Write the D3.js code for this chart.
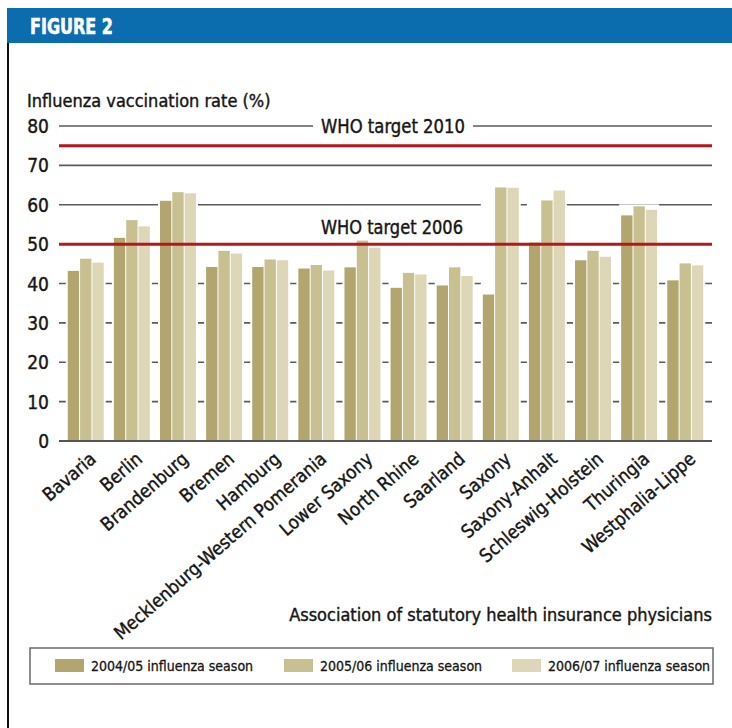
<!DOCTYPE html>
<html>
<head>
<meta charset="utf-8">
<script src="https://cdn.jsdelivr.net/npm/d3@7"></script>
<style>
body { margin: 0; background: #fff; }
svg text { font-family: "DejaVu Sans Condensed", "Liberation Sans Narrow", "Roboto", sans-serif; fill: #161616; stroke: #161616; stroke-width: 0.4px; }
</style>
</head>
<body>
<script>
var W = 732, H = 728;

var states = ['Bavaria', 'Berlin', 'Brandenburg', 'Bremen', 'Hamburg',
    'Mecklenburg-Western Pomerania', 'Lower Saxony', 'North Rhine', 'Saarland',
    'Saxony', 'Saxony-Anhalt', 'Schleswig-Holstein', 'Thuringia', 'Westphalia-Lippe'];
var seasons = ['2004/05 influenza season', '2005/06 influenza season', '2006/07 influenza season'];
var season0405 = [43.2, 51.6, 61.0, 44.2, 44.2, 43.8, 44.1, 38.9, 39.5, 37.2, 50.4, 45.9, 57.3, 40.8];
var season0506 = [46.3, 56.1, 63.2, 48.3, 46.1, 44.7, 50.9, 42.7, 44.1, 64.4, 61.1, 48.3, 59.6, 45.1];
var season0607 = [45.3, 54.5, 62.9, 47.6, 45.9, 43.3, 49.1, 42.3, 41.9, 64.3, 63.6, 46.8, 58.7, 44.6];
var yTicks = [0, 10, 20, 30, 40, 50, 60, 70, 80];
var targets = [{label: 'WHO target 2006', value: 50}, {label: 'WHO target 2010', value: 75}];

var COLORS = ['#b2a66e', '#c9c092', '#ddd6b7'];
var RED = '#b3191c';

var svg = d3.select('body').append('svg')
    .attr('width', W)
    .attr('height', H);

// frame + header
svg.append('rect').attr('x', 7).attr('y', 8).attr('width', W - 7).attr('height', 35).attr('fill', '#0b6cae');
svg.append('line').attr('x1', 8).attr('x2', 8).attr('y1', 43).attr('y2', H)
    .attr('stroke', '#111').attr('stroke-width', 2);
svg.append('text').attr('x', 30).attr('y', 34)
    .attr('textLength', 83).attr('lengthAdjust', 'spacingAndGlyphs')
    .style('font-weight', 'bold').style('font-size', '22px')
    .style('fill', '#fff').style('stroke', '#fff').style('stroke-width', '0.6px')
    .text('FIGURE 2');

var plotLeft = 59, plotRight = 712, plotTop = 126, plotBottom = 441;

var x = d3.scaleBand().domain(states).range([plotLeft, plotRight]).paddingInner(0.22).paddingOuter(0.19);
var xs = d3.scaleBand().domain([0, 1, 2]).range([0, x.bandwidth()]).paddingInner(0.08);
var y = d3.scaleLinear().domain([0, 80]).range([plotBottom, plotTop]);

var data = states.map(function (s, i) {
    return {state: s, vals: [season0405[i], season0506[i], season0607[i]]};
});

// y title
svg.append('text').attr('x', 27).attr('y', 107).style('font-size', '18px').text('Influenza vaccination rate (%)');

// grid
var grid = svg.append('g');
grid.selectAll('line').data(yTicks.filter(function (d) { return d > 0; })).enter().append('line')
    .attr('x1', plotLeft).attr('x2', plotRight)
    .attr('y1', function (d) { return y(d); }).attr('y2', function (d) { return y(d); })
    .attr('stroke', '#5a5a5a').attr('stroke-width', 1.6);

svg.append('g').selectAll('text').data(yTicks).enter().append('text')
    .attr('x', 49).attr('y', function (d) { return y(d) + 7; })
    .attr('text-anchor', 'end').style('font-size', '19px')
    .text(function (d) { return d; });

// groups with white mask behind
var groups = svg.append('g').selectAll('g').data(data).enter().append('g')
    .attr('transform', function (d) { return 'translate(' + x(d.state) + ',0)'; });

groups.append('rect')
    .attr('x', -2).attr('width', x.bandwidth() + 4)
    .attr('y', function (d) { return y(d3.max(d.vals)) - 2; })
    .attr('height', function (d) { return plotBottom - y(d3.max(d.vals)) + 2; })
    .attr('fill', '#fff');

groups.selectAll('.bar').data(function (d) { return d.vals; }).enter().append('rect')
    .attr('class', 'bar')
    .attr('x', function (d, i) { return xs(i); })
    .attr('width', xs.bandwidth())
    .attr('y', function (d) { return y(d); })
    .attr('height', function (d) { return plotBottom - y(d); })
    .attr('fill', function (d, i) { return COLORS[i]; });

// baseline
svg.append('line').attr('x1', plotLeft).attr('x2', plotRight).attr('y1', plotBottom).attr('y2', plotBottom)
    .attr('stroke', '#555').attr('stroke-width', 2);

// WHO targets
svg.append('g').selectAll('line').data(targets).enter().append('line')
    .attr('x1', plotLeft).attr('x2', plotRight)
    .attr('y1', function (d) { return y(d.value); }).attr('y2', function (d) { return y(d.value); })
    .attr('stroke', RED).attr('stroke-width', 3);

// 2010 label sits on the 80 grid line, 2006 label above the 50 line
var lab2010 = svg.append('g');
lab2010.append('rect').attr('x', 313).attr('y', y(80) - 4).attr('width', 160).attr('height', 8).attr('fill', '#fff');
lab2010.append('text').attr('x', 393).attr('y', y(80) + 7).attr('text-anchor', 'middle')
    .attr('textLength', 144).attr('lengthAdjust', 'spacingAndGlyphs')
    .style('font-size', '19px').text(targets[1].label);
svg.append('text').attr('x', 392).attr('y', y(50) - 10).attr('text-anchor', 'middle')
    .attr('textLength', 142).attr('lengthAdjust', 'spacingAndGlyphs')
    .style('font-size', '19px').text(targets[0].label);

// x labels
svg.append('g').selectAll('text').data(states).enter().append('text')
    .attr('transform', function (d) {
        return 'translate(' + (x(d) + x.bandwidth() / 2 + 3) + ',' + (plotBottom + 10) + ') rotate(-41)';
    })
    .attr('text-anchor', 'end').attr('dy', '0.7em')
    .style('font-size', '18.5px')
    .text(function (d) { return d; });

svg.append('text').attr('x', plotRight).attr('y', 621).attr('text-anchor', 'end')
    .style('font-size', '18px').text('Association of statutory health insurance physicians');

// legend
svg.append('rect').attr('x', 30).attr('y', 648).attr('width', 683).attr('height', 36)
    .attr('fill', '#fff').attr('stroke', '#6a6a6a').attr('stroke-width', 1.5);
var legX = [55, 284, 512];
var leg = svg.append('g').selectAll('g').data(seasons).enter().append('g')
    .attr('transform', function (d, i) { return 'translate(' + legX[i] + ',659)'; });
leg.append('rect').attr('width', 29).attr('height', 13).attr('fill', function (d, i) { return COLORS[i]; });
leg.append('text').attr('x', 36).attr('y', 12).style('font-size', '14px').style('stroke-width', '0.3px')
    .text(function (d) { return d; });
</script>
</body>
</html>
